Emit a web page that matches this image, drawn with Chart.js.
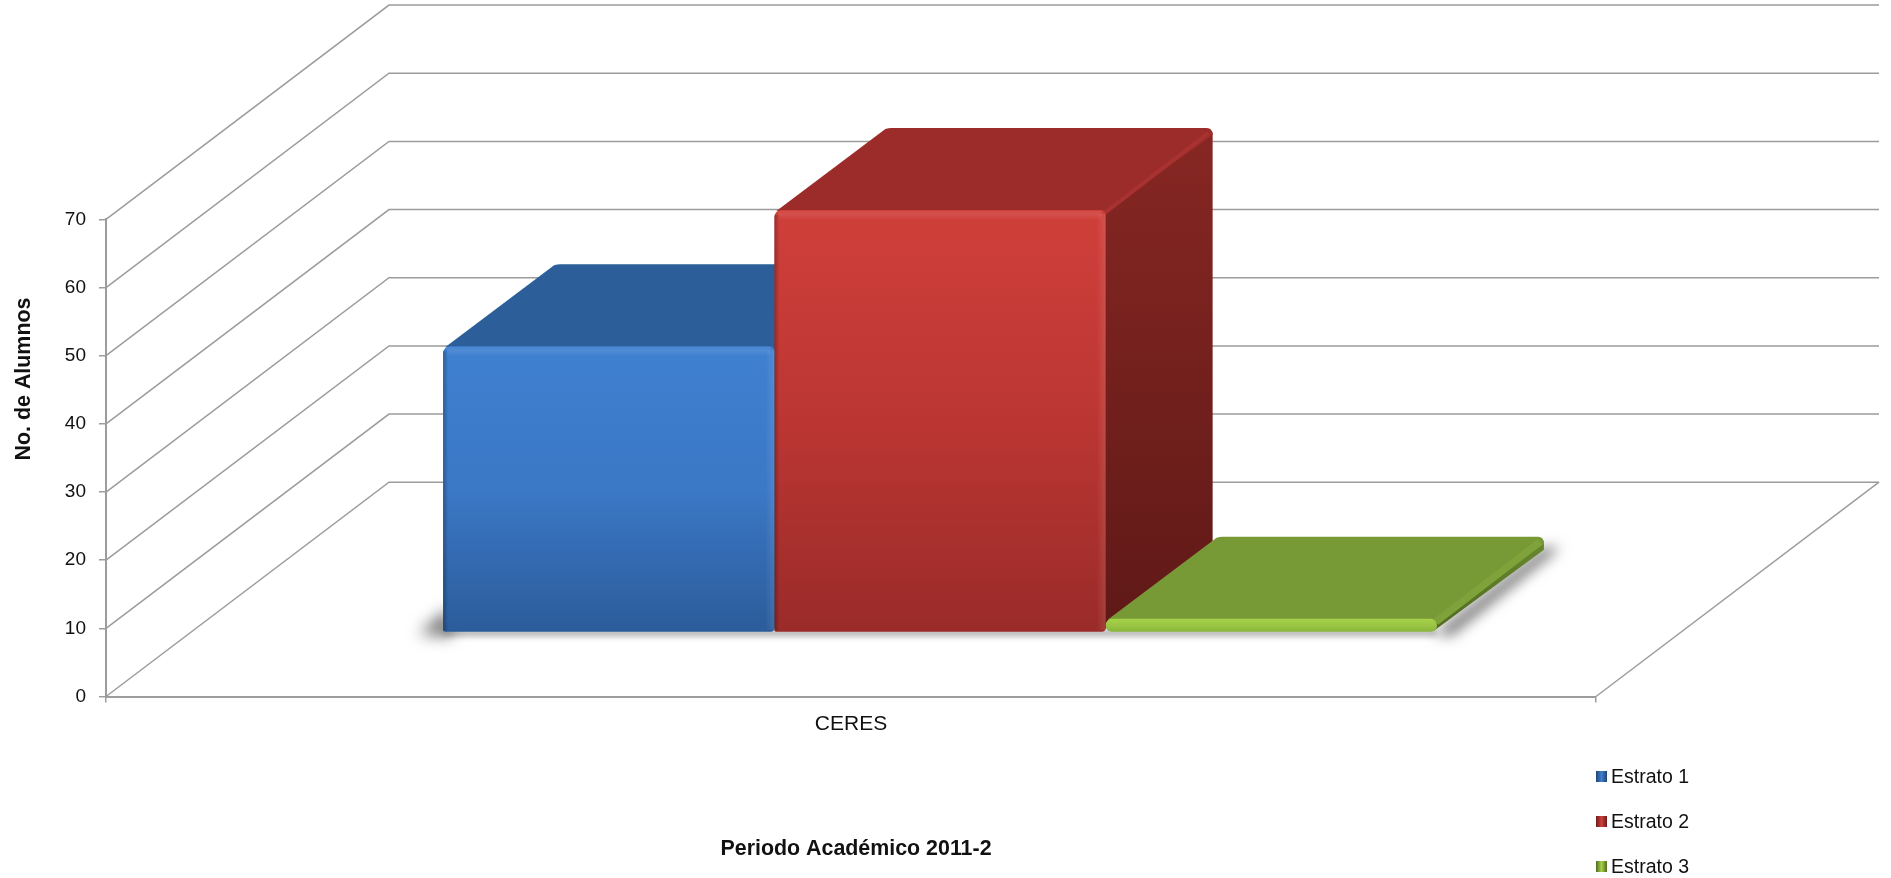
<!DOCTYPE html>
<html>
<head>
<meta charset="utf-8">
<title>Periodo Académico 2011-2</title>
<script src="https://cdn.jsdelivr.net/npm/chart.js@4"></script>
<style>
    html, body { margin: 0; padding: 0; background: #fff; overflow: hidden; }
    canvas { display: block; }
</style>
</head>
<body>
<canvas id="chart" width="1891" height="878"></canvas>
<script>
const categories = ['CERES'];
const seriesNames = ['Estrato 1', 'Estrato 2', 'Estrato 3'];
const estrato1 = [42];
const estrato2 = [62];
const estrato3 = [2];
const yTicks = [0, 10, 20, 30, 40, 50, 60, 70];
const yTitle = 'No. de Alumnos';
const xTitle = 'Periodo Académico 2011-2';

const FONT = '"Liberation Sans", Arial, sans-serif';
const GRID = '#9c9c9c';
const TEXT = '#111';

// oblique projection of the 3D box
const WALL_DX = 283, WALL_DY = -214.3;
const SHIFT_X = 89, SHIFT_Y = -64;
const TOP_DX = 114, SIDE_DX = 107, DEPTH_DY = -82;

const looks = [
    { top: '#2c5f9a', front: ['#3f80d0', '#3b78c6', '#2b5c9a'], side: ['#234c7c', '#1a3a60'], edge: '#2f66a6', edgeWidth: 4, legend: ['#3f80d0', '#1f4472'] },
    { top: '#9c2c2a', front: ['#d03f3a', '#bb3633', '#9a2b29'], side: ['#872723', '#5f1917'], edge: '#a83230', edgeWidth: 4, legend: ['#d03f3a', '#6b1c1a'] },
    { top: '#789a36', front: ['#a6d248', '#9ac443', '#86b33a'], side: ['#6a8a30', '#4f6a20'], edge: '#7fa33a', edgeWidth: 7, legend: ['#a6d248', '#4f6a20'] }
];

function frontGradient(ctx) {
    const chart = ctx.chart;
    const y = chart.scales.y;
    const stops = looks[ctx.datasetIndex].front;
    if (!y || !ctx.parsed) return stops[0];
    const y0 = y.getPixelForValue(ctx.parsed.y);
    const y1 = y.getPixelForValue(0);
    if (!isFinite(y0) || !isFinite(y1)) return stops[0];
    const g = chart.ctx.createLinearGradient(0, y0, 0, y1);
    g.addColorStop(0, stops[0]);
    g.addColorStop(0.5, stops[1]);
    g.addColorStop(1, stops[2]);
    return g;
}

function poly(ctx, pts, fill) {
    ctx.beginPath();
    pts.forEach((p, i) => i ? ctx.lineTo(p[0], p[1]) : ctx.moveTo(p[0], p[1]));
    ctx.closePath();
    ctx.fillStyle = fill;
    ctx.fill();
}

function barBox(meta) {
    const el = meta.data[0];
    return { l: el.x - el.width / 2, r: el.x + el.width / 2, t: el.y, b: el.base };
}

function drawDepthFaces(ctx, look, box) {
    const { l, r, t, b } = box;
    const side = ctx.createLinearGradient(0, t + DEPTH_DY, 0, b);
    side.addColorStop(0, look.side[0]);
    side.addColorStop(1, look.side[1]);
    poly(ctx, [[r - 3, t + 2], [r + SIDE_DX, t + DEPTH_DY + 4], [r + SIDE_DX, b + DEPTH_DY], [r - 3, b - 1]], side);

    ctx.beginPath();
    ctx.moveTo(l + 2, t + 1);
    ctx.lineTo(l + TOP_DX - 3, t + DEPTH_DY + 1);
    ctx.quadraticCurveTo(l + TOP_DX, t + DEPTH_DY, l + TOP_DX + 3, t + DEPTH_DY);
    ctx.lineTo(r + SIDE_DX - 6, t + DEPTH_DY);
    ctx.quadraticCurveTo(r + SIDE_DX, t + DEPTH_DY, r + SIDE_DX, t + DEPTH_DY + 7);
    ctx.lineTo(r - 2, t + 3);
    ctx.closePath();
    ctx.fillStyle = look.top;
    ctx.fill();

    // lit edge between top and side
    ctx.strokeStyle = look.edge;
    ctx.lineWidth = look.edgeWidth;
    ctx.beginPath();
    ctx.moveTo(r - 1, t + 3);
    ctx.lineTo(r + SIDE_DX - 4, t + DEPTH_DY + 5);
    ctx.stroke();
}

const box3d = {
    id: 'box3d',
    beforeDatasetsDraw(chart) {
        const { ctx, chartArea: a, scales: { y } } = chart;

        // side wall and back wall lines, one per tick
        ctx.save();
        ctx.strokeStyle = GRID;
        ctx.lineWidth = 1.5;
        yTicks.forEach(v => {
            const py = y.getPixelForValue(v);
            ctx.beginPath();
            ctx.moveTo(a.left, py);
            ctx.lineTo(a.left + WALL_DX, py + WALL_DY);
            ctx.lineTo(a.right + WALL_DX, py + WALL_DY);
            ctx.stroke();
        });
        ctx.beginPath();
        ctx.moveTo(a.right, a.bottom);
        ctx.lineTo(a.right + WALL_DX, a.bottom + WALL_DY);
        ctx.stroke();
        ctx.restore();

        // soft floor shadows
        const first = barBox(chart.getDatasetMeta(0));
        const last = barBox(chart.getDatasetMeta(2));
        ctx.save();
        ctx.translate(SHIFT_X, SHIFT_Y);
        ctx.save();
        ctx.filter = 'blur(8px)';
        poly(ctx, [[first.l - 24, first.b + 2], [first.l + 8, first.b - 24], [first.l + 8, first.b + 4]], 'rgba(60,60,60,0.8)');
        ctx.filter = 'blur(7px)';
        poly(ctx, [[last.r - 2, last.b + 2], [last.r + SIDE_DX, last.b + DEPTH_DY - 2], [last.r + SIDE_DX + 16, last.b + DEPTH_DY - 2], [last.r + 14, last.b + 4]], 'rgba(60,60,60,0.75)');
        ctx.filter = 'blur(3px)';
        poly(ctx, [[first.l, first.b - 2], [last.r, last.b - 2], [last.r, last.b + 4], [first.l, first.b + 4]], 'rgba(90,90,90,0.55)');
        ctx.restore();

        // back faces go first, the library then paints the front faces over them
        looks.forEach((look, i) => drawDepthFaces(ctx, look, barBox(chart.getDatasetMeta(i))));
        ctx.restore();
    },
    beforeDatasetDraw(chart) {
        chart.ctx.save();
        chart.ctx.translate(SHIFT_X, SHIFT_Y);
    },
    afterDatasetDraw(chart, args) {
        const { ctx } = chart;
        const { l, r, t, b } = barBox(args.meta);
        const h = b - t;

        if (h > 40) {
            // bevels on the front face
            let g = ctx.createLinearGradient(0, t, 0, t + 10);
            g.addColorStop(0, 'rgba(255,255,255,0.06)');
            g.addColorStop(0.45, 'rgba(255,255,255,0.09)');
            g.addColorStop(1, 'rgba(255,255,255,0)');
            ctx.fillStyle = g;
            ctx.fillRect(l + 4, t + 1, r - l - 8, 10);

            g = ctx.createLinearGradient(r - 9, 0, r, 0);
            g.addColorStop(0, 'rgba(255,255,255,0)');
            g.addColorStop(1, 'rgba(255,255,255,0.1)');
            ctx.fillStyle = g;
            ctx.fillRect(r - 9, t + 4, 9, h - 6);

            g = ctx.createLinearGradient(l, 0, l + 5, 0);
            g.addColorStop(0, 'rgba(0,0,0,0.28)');
            g.addColorStop(1, 'rgba(0,0,0,0)');
            ctx.fillStyle = g;
            ctx.fillRect(l, t + 5, 5, h - 6);
        }
        ctx.restore();
    },
    afterDraw(chart) {
        const { ctx, chartArea: a } = chart;
        ctx.save();
        ctx.fillStyle = TEXT;

        // axis titles
        ctx.font = 'bold 21.4px ' + FONT;
        ctx.textAlign = 'center';
        ctx.textBaseline = 'middle';
        ctx.fillText(xTitle, 856, 849);
        ctx.save();
        ctx.translate(24, 379);
        ctx.rotate(-Math.PI / 2);
        ctx.fillText(yTitle, 0, 0);
        ctx.restore();

        // legend under the right end of the axis
        ctx.font = '19.5px ' + FONT;
        ctx.textAlign = 'left';
        seriesNames.forEach((name, i) => {
            const cy = 778 + i * 45;
            const stops = looks[i].legend;
            const g = ctx.createLinearGradient(a.right, 0, a.right + 11, 0);
            g.addColorStop(0, stops[1]);
            g.addColorStop(0.5, stops[0]);
            g.addColorStop(1, stops[1]);
            ctx.fillStyle = g;
            ctx.fillRect(a.right, cy - 7, 11, 11);
            ctx.fillStyle = TEXT;
            ctx.fillText(name, a.right + 15, cy);
        });
        ctx.restore();
    }
};

new Chart(document.getElementById('chart'), {
    type: 'bar',
    data: {
        labels: categories,
        datasets: [estrato1, estrato2, estrato3].map((values, i) => ({
            label: seriesNames[i],
            data: values,
            clip: false,
            backgroundColor: frontGradient,
            borderWidth: 0,
            borderSkipped: false,
            borderRadius: i === 2
                ? { topLeft: 6, topRight: 6, bottomLeft: 6, bottomRight: 6 }
                : { topLeft: 7, topRight: 5, bottomLeft: 2, bottomRight: 4 }
        }))
    },
    options: {
        responsive: false,
        animation: false,
        layout: { padding: { top: 219.4, right: 295 } },
        categoryPercentage: 0.667,
        barPercentage: 1,
        plugins: { legend: { display: false }, title: { display: false }, tooltip: { enabled: false } },
        scales: {
            x: {
                offset: true,
                afterFit(scale) { scale.height = 181.5; },
                grid: { drawOnChartArea: false, color: GRID, lineWidth: 1.5, tickLength: 6 },
                border: { color: GRID, width: 2 },
                ticks: { color: TEXT, padding: 9, maxRotation: 0, font: { family: FONT, size: 21 } }
            },
            y: {
                min: 0,
                max: 70,
                afterFit(scale) { scale.width = 106; },
                afterBuildTicks(scale) { scale.ticks = yTicks.map(value => ({ value })); },
                grid: { drawOnChartArea: false, color: GRID, lineWidth: 1.5, tickLength: 7 },
                border: { color: GRID, width: 2 },
                ticks: { color: TEXT, padding: 13, font: { family: FONT, size: 19 } }
            }
        }
    },
    plugins: [box3d]
});
</script>
</body>
</html>
